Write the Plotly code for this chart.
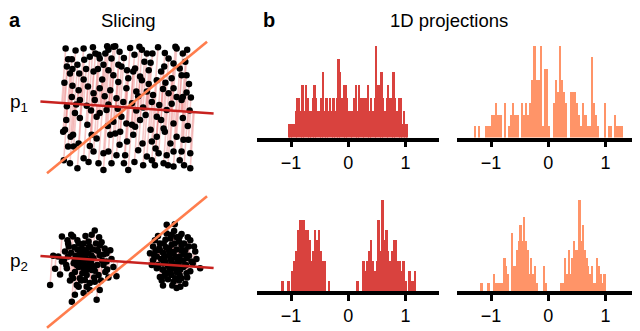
import numpy as np
import plotly.graph_objects as go

# points of panel a (top: uniform square, bottom: two clusters)
top_x = [-0.99, -0.32, -0.19, 0.20, 0.24, 0.32, 0.41, 0.61, 0.80, 0.90,
         -0.95, -0.89, -0.80, -0.69, -0.60, -0.51, -0.46, -0.44, -0.35, -0.30, -0.25, -0.14, -0.09, 0.13, 0.28, 0.67, 0.75, 0.94,
         -0.97, -0.92, -0.77, -0.66, -0.54, -0.38, -0.30, 0.10, 0.21, 0.24, 0.55, 0.72, 0.85, 0.88, 0.96,
         -0.78, -0.63, -0.54, -0.44, -0.27, -0.14, -0.01, 0.15, 0.18, 0.32, 0.42, 0.48, 0.67, 0.75, 0.80, 0.90, 1.03, 0.96,
         -0.89, -0.76, -0.52, -0.33, -0.17, -0.06, 0.08, 0.40, 0.64, 0.88,
         -1.00, -0.84, -0.76, -0.49, -0.44, -0.22, -0.09, -0.01, 0.08, 0.13, 0.21, 0.48, 0.59, 0.75, 0.90,
         -1.03, -0.91, -0.87, -0.78, -0.57, -0.49, -0.27, -0.19, -0.11, 0.10, 0.40, 0.48, 0.61, 0.80, 0.91, 0.99,
         -0.95, -0.86, -0.54, -0.38, -0.30, -0.17, -0.03, 0.18, 0.32, 0.51, 0.64, 0.75, 0.88, 1.02,
         -0.92, -0.62, -0.46, -0.38, -0.25, 0.02, 0.26, 0.40, 0.45, 0.59, 0.66, 0.75,
         -0.83, -0.70, -0.12, 0.05, 0.50, 0.97, -1.01, -0.88, -0.70, -0.40, -0.22, 0.02, 0.35, 0.62, 1.00,
         -0.97, -0.65, -0.58, -0.36, 0.26, 0.52, 0.72, 1.01, 0.30, -0.64, -0.31, 0.38, 0.98, -0.70, -0.12,
         0.00, 0.25, 0.70, -1.02, -0.80, 0.12, 0.92, 1.02, -0.55, -0.05, 0.38, 0.60, -0.47, 0.00, -0.82,
         0.15, -0.15, 0.58, -0.05, 0.85, -0.22, 0.12, 0.78, -0.98, 0.55, -0.30, -0.60, 0.35, -0.88, 0.46]
top_y = [0.95, 0.99, 0.99, 0.98, 0.93, 0.87, 0.87, 0.88, 0.95, 0.87,
         0.78, 0.78, 0.69, 0.77, 0.82, 0.87, 0.85, 0.79, 0.87, 0.93, 0.79, 0.69, 0.66, 0.63, 0.74, 0.79, 0.71, 0.74,
         0.66, 0.55, 0.55, 0.62, 0.58, 0.69, 0.60, 0.58, 0.50, 0.44, 0.58, 0.47, 0.63, 0.52, 0.52,
         0.28, 0.34, 0.23, 0.31, 0.28, 0.41, 0.31, 0.26, 0.18, 0.26, 0.20, 0.44, 0.23, 0.31, 0.17, 0.17, 0.16, 0.24,
         0.17, 0.12, 0.12, -0.04, 0.15, 0.09, 0.07, 0.09, -0.04, 0.12,
         -0.36, -0.09, -0.17, -0.15, -0.09, -0.23, -0.15, -0.26, -0.28, -0.31, -0.20, -0.15, -0.34, -0.26, -0.17,
         -0.39, -0.47, -0.44, -0.58, -0.44, -0.50, -0.44, -0.42, -0.39, -0.44, -0.55, -0.47, -0.39, -0.47, -0.52, -0.52,
         -0.63, -0.63, -0.71, -0.74, -0.71, -0.77, -0.77, -0.69, -0.79, -0.74, -0.77, -0.71, -0.71, -0.74,
         -0.90, -0.88, -0.90, -1.01, -0.90, -1.01, -0.93, -0.85, -0.93, -0.90, -0.93, -0.95,
         0.92, 0.95, 0.90, 0.96, 0.97, 0.93, 0.40, 0.35, 0.45, 0.45, 0.52, 0.47, 0.60, 0.40, 0.38,
         0.02, 0.03, -0.05, 0.18, 0.00, 0.04, 0.06, -0.05, -0.12, -0.28, -0.30, -0.36, -0.30, -0.82, -0.60,
         -0.55, -0.58, -0.58, -0.85, -0.98, -0.88, -0.93, -0.98, 0.97, 0.80, 0.72, 0.66, 0.62, 0.60, 0.05,
         -0.05, -0.02, 0.30, -0.90, -0.85, 0.98, 0.85, 0.98, -0.20, -0.20, 0.05, -0.62, 0.38, 0.62, -0.66]

bottom_x = [-1.24, -1.05, -0.90, -0.87, -0.52, -0.41, -0.78, -0.95, -1.19, -1.11, -1.16, -0.97, -0.84, -0.76, -0.68,
            -0.60, -0.49, -0.44, -0.33, -0.27, -0.33, -0.22, -0.17, -0.35, -0.46, -0.57, -0.65, -0.76, -0.84, -0.89,
            -0.81, -0.68, -0.52, -0.44, -0.49, -0.89, -0.84, -0.62, -0.73, -0.95, -1.00, -0.54, -0.70, -0.38, -0.62,
            -0.81, -1.05, -0.44, -0.60, -0.70,
            -0.66, -0.58, -0.72, -0.80, -0.90, -0.62, -0.55, -0.48, -0.40, -0.75, -0.64, -0.86, -0.98, -0.52, -0.36,
            -0.70, -0.92, -0.60, -0.78, -0.45, -0.67, -1.08, -0.30, -0.25, -0.83, -0.57, -0.69, -0.78, -0.50, -0.94,
            -0.60, -0.42, -0.73, -0.65, -0.87, -0.53, -0.38, -1.02, -0.80, -0.57, -0.47, -0.74, -0.62, -0.85, -0.55,
            -0.32, -0.70, -0.96, -0.66, -0.77,
            0.64, 0.77, 0.45, 0.37, 0.42, 0.48, 0.53, 0.75, 0.80, 0.88, 0.96, 1.10, 1.18, 1.02, 0.85,
            0.72, 0.59, 0.67, 0.75, 0.85, 0.96, 1.04, 0.59, 0.69, 0.80, 0.91, 0.64, 0.48, 0.53, 0.61,
            0.72, 0.83, 0.94, 0.99, 0.77, 0.88, 0.42, 0.72, 0.85, 0.59,
            0.55, 0.62, 0.70, 0.78, 0.66, 0.74, 0.82, 0.90, 0.58, 0.68, 0.80, 0.92, 0.50, 0.57, 0.77,
            0.86, 0.95, 1.00, 0.63, 0.72, 0.84, 0.46, 0.53, 0.97, 0.66, 0.78, 0.60, 0.88, 0.70, 0.50,
            1.06, 1.12, 0.40, 0.44, 0.92, 0.62, 0.84, 0.73, 0.56, 1.02, 0.98, 0.76, 0.68, 0.88, 0.74,
            0.60, 0.82, 0.70, 0.94, 0.52, 0.80, 0.64, 1.08, 0.86, 0.58]
bottom_y = [-0.37, 0.41, 0.44, 0.41, 0.51, 0.32, 0.30, 0.30, 0.10, 0.09, -0.11, -0.10, 0.03, 0.14, 0.19,
            0.25, 0.19, 0.11, 0.14, 0.19, 0.01, -0.08, -0.23, -0.16, -0.21, -0.13, -0.21, -0.26, -0.16, -0.21,
            -0.37, -0.29, -0.32, -0.45, -0.61, -0.64, -0.53, -0.05, 0.01, 0.09, 0.17, 0.06, 0.09, -0.05, 0.14,
            -0.05, 0.01, 0.27, -0.45, -0.10,
            0.05, -0.02, -0.18, 0.20, 0.15, 0.33, 0.20, -0.05, 0.02, 0.06, -0.12, -0.02, -0.05, -0.14, 0.22,
            0.30, -0.30, -0.34, -0.40, 0.40, 0.42, -0.20, -0.25, 0.05, 0.10, 0.10, -0.04, -0.08, 0.30, 0.25,
            0.02, -0.30, 0.22, -0.40, -0.26, -0.25, 0.12, 0.03, 0.35, 0.44, 0.18, -0.30, 0.24, 0.24, -0.07,
            -0.12, -0.50, 0.35, 0.13, -0.02,
            0.60, 0.61, 0.35, 0.14, 0.03, -0.10, -0.24, -0.32, -0.42, -0.26, -0.18, 0.17, -0.10, 0.35, 0.41,
            0.44, 0.30, 0.19, 0.14, 0.09, 0.06, 0.01, -0.02, -0.10, -0.16, -0.08, -0.18, 0.09, 0.19, 0.09,
            0.01, -0.02, 0.19, 0.25, 0.30, 0.27, 0.25, -0.21, -0.21, -0.13,
            0.05, 0.00, 0.05, 0.08, -0.06, -0.04, 0.03, 0.02, 0.15, 0.12, 0.20, 0.13, -0.05, -0.12, -0.10,
            -0.12, -0.05, 0.10, 0.24, 0.28, 0.33, 0.18, 0.30, -0.25, -0.28, -0.26, -0.22, 0.45, 0.38, 0.42,
            -0.02, 0.05, -0.05, 0.10, 0.30, 0.36, -0.30, -0.38, -0.30, -0.15, 0.40, 0.50, 0.20, 0.18, 0.16,
            0.08, -0.05, -0.15, -0.35, 0.22, 0.40, 0.46, 0.25, -0.40, -0.38]

# slicing directions (degrees) and drawn half lengths
slice_angle = {"p": -4.0, "q": 39.4}
slice_half_len = {"p": 1.40, "q": 1.67}

# histogram counts of the 1D projections (70 bins each), with the projected ranges
h_top_red_range = [-1.05, 1.05]
h_top_red = [1, 1, 1, 1, 2, 3, 3, 2, 4, 2, 4, 3, 2, 2, 3, 4, 3, 2, 2, 3, 5, 2, 3, 2, 3, 2, 3, 2, 3, 6,
             5, 3, 4, 4, 3, 2, 2, 2, 3, 4, 2, 4, 3, 3, 3, 3, 4, 2, 3, 2, 3, 7, 4, 4, 5, 3, 2, 3, 4, 3,
             3, 5, 3, 2, 3, 3, 1, 2, 1, 1]
h_top_orange_range = [-1.30, 1.30]
h_top_orange = [1, 0, 1, 0, 0, 1, 1, 1, 2, 2, 3, 2, 2, 0, 3, 0, 1, 2, 3, 2, 2, 0, 3, 2, 3, 2, 3, 5, 8, 5,
                5, 8, 1, 6, 6, 1, 0, 3, 5, 4, 8, 5, 4, 3, 0, 4, 4, 4, 3, 2, 1, 3, 2, 1, 1, 7, 3, 2, 1, 0,
                0, 3, 0, 1, 1, 0, 2, 1, 1, 1]
h_bot_red_range = [-1.16, 1.19]
h_bot_red = [1, 0, 0, 1, 0, 2, 3, 4, 6, 7, 7, 7, 6, 6, 5, 3, 4, 6, 5, 6, 4, 3, 3, 0, 1, 0, 0, 0, 0, 0,
             0, 0, 0, 0, 0, 0, 0, 0, 0, 1, 0, 0, 3, 2, 3, 4, 5, 3, 2, 3, 7, 4, 9, 5, 6, 4, 3, 4, 5, 5,
             3, 3, 2, 3, 1, 0, 2, 1, 1, 2]
h_bot_orange_range = [-1.18, 1.00]
h_bot_orange = [1, 0, 0, 0, 1, 0, 0, 2, 1, 1, 1, 1, 1, 4, 3, 2, 0, 7, 3, 3, 5, 6, 8, 6, 9, 6, 5, 2, 4, 2,
                3, 1, 0, 0, 0, 3, 1, 0, 0, 0, 0, 0, 0, 0, 0, 1, 1, 4, 2, 5, 2, 4, 6, 5, 5, 11, 6, 8, 5, 4,
                3, 2, 3, 1, 1, 4, 3, 2, 1, 2]

RED = "#c8221f"
ORANGE = "#ff7d4d"
RED_BAR = "#d9423e"
ORANGE_BAR = "#ff9468"
FONT = "Liberation Sans, Arial, sans-serif"

# the page puts the figure 8px in from the top left corner
W, H, OFF = 640, 331, 8


def px_x(p):
    return (p - OFF) / W


def px_y(p):
    return 1 - (p - OFF) / H


fig = go.Figure()


def unit(angle):
    a = np.deg2rad(angle)
    return np.array([np.cos(a), np.sin(a)])


def add_slice_panel(px, py, ax):
    px = np.array(px)
    py = np.array(py)
    d = unit(slice_angle["p"])
    t = px * d[0] + py * d[1]
    lx, ly = [], []
    for x0, y0, tt in zip(px, py, t):
        lx += [x0, tt * d[0], None]
        ly += [y0, tt * d[1], None]
    fig.add_trace(go.Scatter(x=lx, y=ly, mode="lines", xaxis="x" + ax, yaxis="y" + ax,
                             line=dict(color="rgba(232,110,110,0.38)", width=1.6), hoverinfo="skip"))
    fig.add_trace(go.Scatter(x=px, y=py, mode="markers", xaxis="x" + ax, yaxis="y" + ax,
                             marker=dict(color="black", size=6.5)))
    for key, col in [("q", ORANGE), ("p", RED)]:
        u = unit(slice_angle[key]) * slice_half_len[key]
        fig.add_trace(go.Scatter(x=[-u[0], u[0]], y=[-u[1], u[1]], mode="lines",
                                 xaxis="x" + ax, yaxis="y" + ax, line=dict(color=col, width=2.6)))


def add_hist(counts, rng, ax, color):
    edges = np.linspace(rng[0], rng[1], len(counts) + 1)
    centers = (edges[:-1] + edges[1:]) / 2
    fig.add_trace(go.Bar(x=centers, y=counts, width=edges[1] - edges[0], xaxis="x" + ax, yaxis="y" + ax,
                         marker=dict(color=color, line=dict(width=0))))


add_slice_panel(top_x, top_y, "")
add_slice_panel(bottom_x, bottom_y, "2")
add_hist(h_top_red, h_top_red_range, "3", RED_BAR)
add_hist(h_top_orange, h_top_orange_range, "4", ORANGE_BAR)
add_hist(h_bot_red, h_bot_red_range, "5", RED_BAR)
add_hist(h_bot_orange, h_bot_orange_range, "6", ORANGE_BAR)

hidden = dict(visible=False, showgrid=False, zeroline=False)
hx = dict(range=[-1.595, 1.585], showline=True, linewidth=3.5, linecolor="black", ticks="outside",
          ticklen=6, tickwidth=3, tickcolor="black", tickvals=[-1, 0, 1], ticktext=["\u22121", "0", "1"],
          tickfont=dict(size=18, color="black", family=FONT), showgrid=False, zeroline=False)

left_dom = [px_x(257), px_x(439)]
right_dom = [px_x(457), px_x(639)]
top_h_dom = [px_y(137.5), px_y(46)]
bot_h_dom = [px_y(291), px_y(200)]

fig.update_layout(
    width=W, height=H, margin=dict(l=0, r=0, t=0, b=0),
    paper_bgcolor="white", plot_bgcolor="white", showlegend=False, bargap=0,
    xaxis=dict(hidden, domain=[px_x(20), px_x(230)], range=[-1.726, 1.661]),
    yaxis=dict(hidden, domain=[px_y(183), px_y(32)], range=[-1.218, 1.218]),
    xaxis2=dict(hidden, domain=[px_x(20), px_x(230)], range=[-1.726, 1.661]),
    yaxis2=dict(hidden, domain=[0, px_y(188)], range=[-1.242, 1.194]),
    xaxis3=dict(hx, domain=left_dom, anchor="y3"),
    yaxis3=dict(hidden, domain=top_h_dom, range=[0, max(h_top_red)]),
    xaxis4=dict(hx, domain=right_dom, anchor="y4"),
    yaxis4=dict(hidden, domain=top_h_dom, range=[0, max(h_top_orange)]),
    xaxis5=dict(hx, domain=left_dom, anchor="y5"),
    yaxis5=dict(hidden, domain=bot_h_dom, range=[0, max(h_bot_red)]),
    xaxis6=dict(hx, domain=right_dom, anchor="y6"),
    yaxis6=dict(hidden, domain=bot_h_dom, range=[0, max(h_bot_orange)]),
)

# panel letters sit at the very top of the figure
for txt, x in [("<b>a</b>", 8), ("<b>b</b>", 262)]:
    fig.add_annotation(text=txt, x=px_x(x), y=1, xref="paper", yref="paper", showarrow=False,
                       xanchor="left", yanchor="top", borderpad=0,
                       font=dict(size=20, color="black", family=FONT))

labels = [("Slicing", 128, 20, 18.5, "center"), ("1D projections", 449, 20, 18.5, "center"),
          ("p<sub>1</sub>", 8, 103, 19, "left"), ("p<sub>2</sub>", 8, 262, 19, "left")]
for txt, x, y, s, anchor in labels:
    fig.add_annotation(text=txt, x=px_x(x), y=px_y(y), xref="paper", yref="paper", showarrow=False,
                       xanchor=anchor, yanchor="middle", font=dict(size=s, color="black", family=FONT))

fig.write_html("out.html")
